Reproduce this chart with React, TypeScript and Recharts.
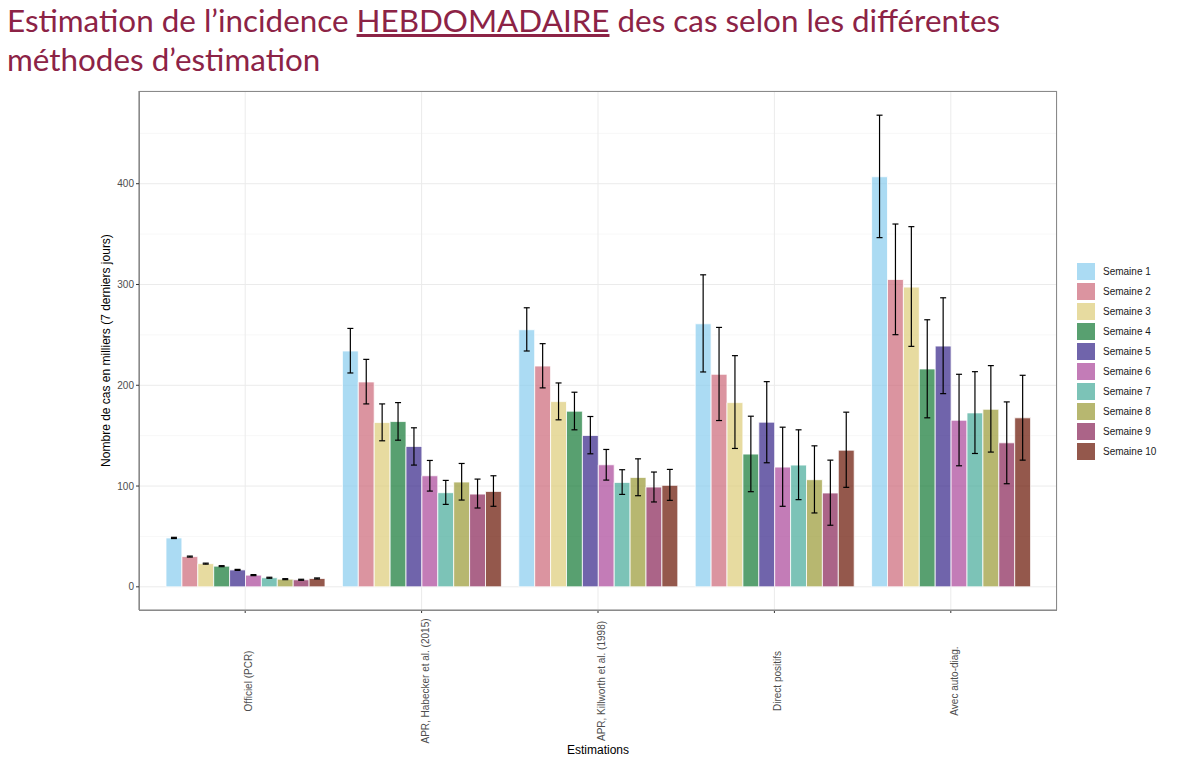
import React from 'react';
import { BarChart, Bar, XAxis, YAxis, CartesianGrid, ErrorBar } from 'recharts';

const categories = [
  'Officiel (PCR)',
  'APR, Habecker et al. (2015)',
  'APR, Killworth et al. (1998)',
  'Direct positifs',
  'Avec auto-diag.',
];

const weekLabels = [
  'Semaine 1', 'Semaine 2', 'Semaine 3', 'Semaine 4', 'Semaine 5',
  'Semaine 6', 'Semaine 7', 'Semaine 8', 'Semaine 9', 'Semaine 10',
];

const weekColors = [
  '#88CCEE', '#CC6677', '#DDCC77', '#117733', '#332288',
  '#AA4499', '#44AA99', '#999933', '#882255', '#661100',
];

const yTicks = [0, 100, 200, 300, 400];
const yMinorTicks = [50, 150, 250, 350, 450];

// values per category (Semaine 1..10), in thousands
const officielValues = [48.5, 30, 23, 20.5, 16.8, 11.6, 9, 7.6, 7, 8.3];
const officielLow = [47.9, 29.5, 22.5, 20, 16.3, 11.1, 8.5, 7.1, 6.5, 7.8];
const officielHigh = [49.1, 30.5, 23.5, 21, 17.3, 12.1, 9.5, 8.1, 7.5, 8.8];

const habeckerValues = [234, 203.3, 163, 164, 139.3, 110.2, 93.4, 104, 92, 94.7];
const habeckerLow = [212.2, 181.5, 144.9, 145.5, 120.8, 95, 81.8, 86.1, 78.2, 79.9];
const habeckerHigh = [256.4, 225.7, 181.5, 182.8, 157.8, 125.4, 105.6, 122.4, 106.9, 110.2];

const killworthValues = [255.1, 219.1, 183.8, 174.3, 150.2, 121.1, 103.6, 108.6, 99, 100.7];
const killworthLow = [234, 197.4, 165.7, 155.8, 132, 105.9, 91.7, 90.4, 84.2, 85.8];
const killworthHigh = [276.9, 241.3, 202.3, 193.1, 169, 136.3, 116.2, 127, 113.9, 116.5];

const directValues = [261, 210.9, 182.8, 131.7, 163.4, 118.8, 120.8, 106.3, 93.1, 135.6];
const directLow = [213.2, 165, 137.3, 94.4, 123.1, 79.9, 86.5, 73.3, 61.1, 98.7];
const directHigh = [309.6, 257.4, 229.4, 169.3, 203.6, 158.4, 155.8, 139.9, 125.7, 173.3];

const autoValues = [406.9, 305, 297.4, 216.2, 238.9, 165.3, 172.6, 176.2, 142.9, 167.7];
const autoLow = [346.5, 250.2, 238.6, 167.7, 191.7, 120.1, 132.3, 133.7, 102.3, 125.7];
const autoHigh = [468, 360, 357.4, 265, 286.8, 210.9, 213.5, 219.5, 183.5, 209.9];

const valuesByCategory = [officielValues, habeckerValues, killworthValues, directValues, autoValues];
const lowByCategory = [officielLow, habeckerLow, killworthLow, directLow, autoLow];
const highByCategory = [officielHigh, habeckerHigh, killworthHigh, directHigh, autoHigh];

const data = categories.map((category, ci) => {
  const row: Record<string, any> = { category };
  weekLabels.forEach((_, wi) => {
    const v = valuesByCategory[ci][wi];
    row[`w${wi}`] = v;
    row[`e${wi}`] = [v - lowByCategory[ci][wi], highByCategory[ci][wi] - v];
  });
  return row;
});

const AXIS_FONT = '"Liberation Sans", Arial, Helvetica, sans-serif';

const XTick = (props: any) => {
  const { x, payload } = props;
  const cy = 681;
  return (
    <text
      x={x}
      y={cy}
      dy={7}
      transform={`rotate(-90, ${x}, ${cy})`}
      textAnchor="middle"
      fontSize={10}
      fill="#4d4d4d"
      fontFamily={AXIS_FONT}
    >
      {payload.value}
    </text>
  );
};

export default function App() {
  return (
    <div style={{ position: 'absolute', left: 0, top: 0, width: 1200, height: 763, background: '#fff' }}>
      <div
        style={{
          position: 'absolute',
          left: 7,
          top: 1,
          fontFamily: 'Lato, "Open Sans", sans-serif',
          fontSize: 31.4,
          lineHeight: '39px',
          color: '#8c2346',
          whiteSpace: 'nowrap',
        }}
      >
        <div>
          Estimation de l’incidence <span style={{ textDecoration: 'underline' }}>HEBDOMADAIRE</span> des cas selon les différentes
        </div>
        <div>méthodes d’estimation</div>
      </div>
      <div style={{ position: 'absolute', left: 0, top: 0 }}>
        <BarChart
          width={1200}
          height={763}
          data={data}
          margin={{ top: 91, right: 143, bottom: 23, left: 89 }}
          barGap={0}
          barSize={15.9}
        >
          <CartesianGrid
            vertical={false}
            horizontalValues={yMinorTicks}
            stroke="#f2f2f2"
            strokeWidth={0.6}
          />
          <CartesianGrid stroke="#ebebeb" strokeWidth={1} />
          <XAxis
            dataKey="category"
            padding={{ left: 18, right: 18 }}
            height={130}
            tick={<XTick />}
            tickSize={3}
            axisLine={{ stroke: '#8a8a8a', strokeWidth: 1.2 }}
            tickLine={{ stroke: '#333' }}
            interval={0}
            label={{
              content: (p: any) => {
                const vb = p.viewBox;
                return (
                  <text
                    x={vb.x + vb.width / 2}
                    y={vb.y + 144}
                    textAnchor="middle"
                    fontSize={12}
                    fill="#000"
                    fontFamily={AXIS_FONT}
                  >
                    Estimations
                  </text>
                );
              },
            }}
          />
          <YAxis
            width={50}
            domain={[-23, 492]}
            ticks={yTicks}
            allowDataOverflow
            tickSize={3}
            tickMargin={2}
            tick={{ fontSize: 10, fill: '#4d4d4d', fontFamily: AXIS_FONT }}
            axisLine={{ stroke: '#8a8a8a', strokeWidth: 1.2 }}
            tickLine={{ stroke: '#333' }}
            label={{
              content: (p: any) => {
                const vb = p.viewBox;
                const cx = vb.x + vb.width - 29;
                const cy = vb.y + vb.height / 2;
                return (
                  <text
                    x={cx}
                    y={cy}
                    transform={`rotate(-90, ${cx}, ${cy})`}
                    textAnchor="middle"
                    fontSize={12}
                    fill="#000"
                    fontFamily={AXIS_FONT}
                  >
                    Nombre de cas en milliers (7 derniers jours)
                  </text>
                );
              },
            }}
          />
          {weekLabels.map((label, wi) => (
            <Bar
              key={label}
              dataKey={`w${wi}`}
              name={label}
              fill={weekColors[wi]}
              fillOpacity={0.7}
              stroke="#ffffff"
              strokeWidth={0.8}
              isAnimationActive={false}
            >
              <ErrorBar dataKey={`e${wi}`} width={3} stroke="#000" strokeWidth={1.2} />
            </Bar>
          ))}
        </BarChart>
      </div>
      <div
        style={{
          position: 'absolute',
          left: 139,
          top: 91,
          width: 918,
          height: 520,
          border: '1.2px solid #8a8a8a',
          boxSizing: 'border-box',
          pointerEvents: 'none',
        }}
      />
      <div
        style={{
          position: 'absolute',
          left: 1077,
          top: 261,
          fontFamily: AXIS_FONT,
          fontSize: 10,
          color: '#1a1a1a',
        }}
      >
        {weekLabels.map((label, wi) => (
          <div key={label} style={{ display: 'flex', alignItems: 'center', height: 20 }}>
            <div
              style={{
                width: 18,
                height: 17,
                background: weekColors[wi],
                opacity: 0.7,
                marginRight: 8,
              }}
            />
            <span>{label}</span>
          </div>
        ))}
      </div>
    </div>
  );
}
